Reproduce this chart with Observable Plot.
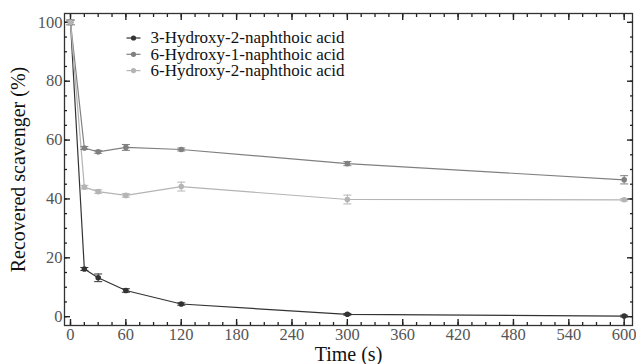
<!DOCTYPE html>
<html>
<head>
<meta charset="utf-8">
<script src="https://cdn.jsdelivr.net/npm/d3@7"></script>
<script src="https://cdn.jsdelivr.net/npm/@observablehq/plot@0.6"></script>
<style>
  html, body { margin: 0; padding: 0; background: #fff; }
  #chart { width: 636px; height: 364px; font-family: "Liberation Serif"; }
</style>
</head>
<body>
<div id="chart"></div>
<script>
const times = [0, 15, 30, 60, 120, 300, 600];
const seriesNames = ["3-Hydroxy-2-naphthoic acid", "6-Hydroxy-1-naphthoic acid", "6-Hydroxy-2-naphthoic acid"];
const seriesColors = ["#333333", "#808080", "#b4b4b4"];
const h32 = [100, 16.2, 13.2, 8.9, 4.3, 0.8, 0.2];
const h32err = [0.8, 0.5, 1.3, 0.6, 0.4, 0.3, 0.3];
const h61 = [100, 57.3, 56.0, 57.5, 56.8, 52.0, 46.5];
const h61err = [0.8, 0.5, 0.5, 1.0, 0.5, 0.7, 1.4];
const h62 = [100, 44.0, 42.5, 41.2, 44.2, 39.8, 39.7];
const h62err = [0.8, 0.6, 0.6, 0.6, 1.5, 1.5, 0.4];
const xMajor = [0, 60, 120, 180, 240, 300, 360, 420, 480, 540, 600];
const xMinor = d3.range(0, 601, 15);
const yMajor = [0, 20, 40, 60, 80, 100];
const yMinor = d3.range(0, 101, 5);

const FONT = "Liberation Serif";
const values = [h32, h61, h62];
const errs = [h32err, h61err, h62err];
const data = [];
seriesNames.forEach((s, i) => times.forEach((t, j) => data.push({
  series: s, t, v: values[i][j], lo: values[i][j] - errs[i][j], hi: values[i][j] + errs[i][j]
})));

const capSymbol = { draw(ctx, size) { const r = Math.sqrt(size / Math.PI); ctx.moveTo(-r, 0); ctx.lineTo(r, 0); } };

const colorScale = { domain: seriesNames, range: seriesColors };

const legendMarks = [];
seriesNames.forEach((s, i) => {
  const dy = 24.5 + i * 16.3;
  legendMarks.push(Plot.dot([s], { frameAnchor: "top-left", dx: 69, dy, symbol: capSymbol, r: 7, stroke: seriesColors[i], strokeWidth: 1.2 }));
  legendMarks.push(Plot.dot([s], { frameAnchor: "top-left", dx: 69, dy, r: 2.6, fill: seriesColors[i] }));
  legendMarks.push(Plot.text([s], { frameAnchor: "top-left", dx: 86, dy, text: d => d, textAnchor: "start", lineAnchor: "middle", fontSize: 17, fontFamily: FONT, fill: "#111" }));
});

const tickOpts = { text: null, label: null, stroke: "#222" };

const chart = Plot.plot({
  width: 636,
  height: 364,
  marginLeft: 64,
  marginRight: 4,
  marginTop: 13,
  marginBottom: 39,
  style: { fontFamily: FONT, fontSize: "16px", background: "#fff" },
  x: { domain: [-6.5, 609] },
  y: { domain: [-3, 103] },
  color: colorScale,
  marks: [
    Plot.frame({ stroke: "#333", strokeWidth: 1.3 }),
    // inward ticks, major and minor, all four sides
    Plot.axisX({ ...tickOpts, anchor: "bottom", ticks: xMinor, tickSize: -3, strokeWidth: 1.3 }),
    Plot.axisX({ ...tickOpts, anchor: "bottom", ticks: xMajor, tickSize: -6, strokeWidth: 1.4 }),
    Plot.axisX({ ...tickOpts, anchor: "top", ticks: xMinor, tickSize: -3, strokeWidth: 1.3 }),
    Plot.axisX({ ...tickOpts, anchor: "top", ticks: xMajor, tickSize: -6, strokeWidth: 1.4 }),
    Plot.axisY({ ...tickOpts, anchor: "left", ticks: yMinor, tickSize: -3, strokeWidth: 1.3 }),
    Plot.axisY({ ...tickOpts, anchor: "left", ticks: yMajor, tickSize: -6, strokeWidth: 1.4 }),
    Plot.axisY({ ...tickOpts, anchor: "right", ticks: yMinor, tickSize: -3, strokeWidth: 1.3 }),
    Plot.axisY({ ...tickOpts, anchor: "right", ticks: yMajor, tickSize: -6, strokeWidth: 1.4 }),
    // tick labels
    Plot.axisX({ anchor: "bottom", ticks: xMajor, tickSize: 0, tickPadding: 3, label: null, fill: "#555", fontSize: 16.5, fontFamily: FONT }),
    Plot.axisY({ anchor: "left", ticks: yMajor, tickSize: 0, tickPadding: 2, label: null, fill: "#555", fontSize: 16.5, fontFamily: FONT }),
    // axis titles
    Plot.text(["Time (s)"], { frameAnchor: "bottom", dy: 29, text: d => d, fontSize: 20, fontFamily: FONT, fill: "#111", textAnchor: "middle", lineAnchor: "middle" }),
    Plot.text(["Recovered scavenger (%)"], { frameAnchor: "left", dx: -46, rotate: -90, text: d => d, fontSize: 20, fontFamily: FONT, fill: "#111", textAnchor: "middle", lineAnchor: "middle" }),
    // data
    Plot.line(data, { x: "t", y: "v", z: "series", stroke: "series", strokeWidth: 1.2 }),
    Plot.ruleX(data, { x: "t", y1: "lo", y2: "hi", stroke: "series", strokeWidth: 1 }),
    Plot.dot(data, { x: "t", y: "lo", stroke: "series", symbol: capSymbol, r: 4, strokeWidth: 1 }),
    Plot.dot(data, { x: "t", y: "hi", stroke: "series", symbol: capSymbol, r: 4, strokeWidth: 1 }),
    Plot.dot(data, { x: "t", y: "v", fill: "series", r: 2.8 }),
    ...legendMarks
  ]
});
document.getElementById("chart").appendChild(chart);
</script>
</body>
</html>
